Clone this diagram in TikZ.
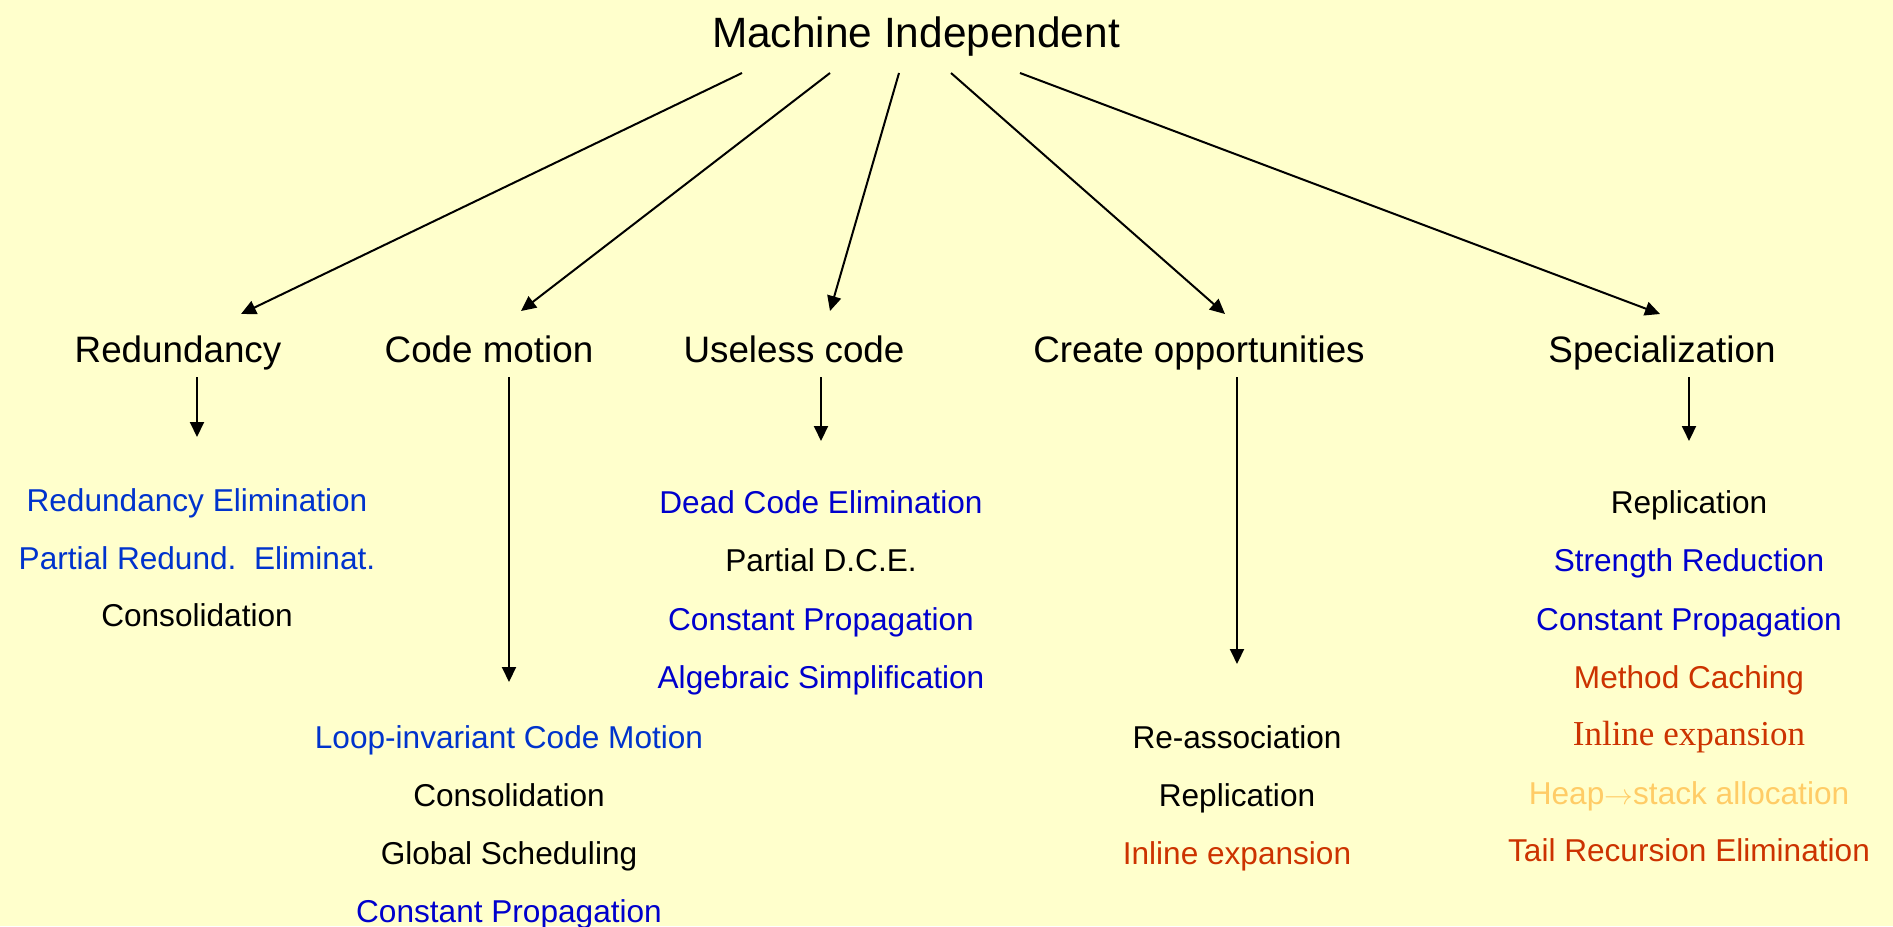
\documentclass[tikz,border=0pt]{standalone}
\usepackage{fontspec}
\setmainfont{Liberation Sans}
\newfontfamily\serifx{Liberation Serif}
\usetikzlibrary{arrows.meta}
\definecolor{bg}{HTML}{FFFFCC}
\definecolor{blueA}{HTML}{0033CC}
\definecolor{blueB}{HTML}{0000CC}
\definecolor{redx}{HTML}{CC3300}
\definecolor{orangex}{HTML}{FFCC66}
\begin{document}
\begin{tikzpicture}[x=0.5pt,y=-0.5pt,
  lvlthree/.style={anchor=base,inner sep=0pt,font=\fontsize{15.8pt}{18pt}\selectfont},
  lvltwo/.style={anchor=base,inner sep=0pt,font=\fontsize{18.4pt}{22pt}\selectfont},
  rootlbl/.style={anchor=base,inner sep=0pt,font=\fontsize{21.2pt}{25pt}\selectfont},
  arr/.style={draw=black,line width=1pt,-{Triangle[length=7.5pt,width=7pt]}}]
\fill[bg] (0,0) rectangle (1893,926);
\useasboundingbox (0,0) rectangle (1893,926);
% root
\node[rootlbl] (root) at (916,47) {Machine Independent};
% level 2
\node[lvltwo] (red) at (178,362) {Redundancy};
\node[lvltwo] (cm) at (489,362) {Code motion};
\node[lvltwo] (uc) at (794,362) {Useless code};
\node[lvltwo] (co) at (1199,362) {Create opportunities};
\node[lvltwo] (sp) at (1662,362) {Specialization};
% top connectors
\coordinate (s1) at (742,73); \coordinate (e1) at (241,314);
\coordinate (s2) at (830,73); \coordinate (e2) at (521,311);
\coordinate (s3) at (899,73); \coordinate (e3) at (830,311);
\coordinate (s4) at (951,73); \coordinate (e4) at (1225,314);
\coordinate (s5) at (1020,73); \coordinate (e5) at (1660,314);
\draw[arr] (s1) -- (e1);
\draw[arr] (s2) -- (e2);
\draw[arr] (s3) -- (e3);
\draw[arr] (s4) -- (e4);
\draw[arr] (s5) -- (e5);
% vertical connectors
\coordinate (v1s) at (197,377); \coordinate (v1e) at (197,437);
\coordinate (v2s) at (509,377); \coordinate (v2e) at (509,682);
\coordinate (v3s) at (821,377); \coordinate (v3e) at (821,441);
\coordinate (v4s) at (1237,377); \coordinate (v4e) at (1237,664);
\coordinate (v5s) at (1689,377); \coordinate (v5e) at (1689,441);
\draw[arr] (v1s) -- (v1e);
\draw[arr] (v2s) -- (v2e);
\draw[arr] (v3s) -- (v3e);
\draw[arr] (v4s) -- (v4e);
\draw[arr] (v5s) -- (v5e);
% Redundancy column
\node[lvlthree,text=blueA] (r1) at (197,511) {Redundancy Elimination};
\node[lvlthree,text=blueA] (r2) at (197,569) {Partial Redund.\ \ Eliminat.};
\node[lvlthree] (r3) at (197,626) {Consolidation};
% Useless code column
\node[lvlthree,text=blueB] (u1) at (821,513) {Dead Code Elimination};
\node[lvlthree] (u2) at (821,571) {Partial D.C.E.};
\node[lvlthree,text=blueB] (u3) at (821,630) {Constant Propagation};
\node[lvlthree,text=blueB] (u4) at (821,688) {Algebraic Simplification};
% Code motion column
\node[lvlthree,text=blueA] (c1) at (509,748) {Loop-invariant Code Motion};
\node[lvlthree] (c2) at (509,806) {Consolidation};
\node[lvlthree] (c3) at (509,864) {Global Scheduling};
\node[lvlthree,text=blueB] (c4) at (509,922) {Constant Propagation};
% Create opportunities column
\node[lvlthree] (o1) at (1237,748) {Re-association};
\node[lvlthree] (o2) at (1237,806) {Replication};
\node[lvlthree,text=redx] (o3) at (1237,864) {Inline expansion};
% Specialization column
\node[lvlthree] (p1) at (1689,513) {Replication};
\node[lvlthree,text=blueB] (p2) at (1689,571) {Strength Reduction};
\node[lvlthree,text=blueB] (p3) at (1689,630) {Constant Propagation};
\node[lvlthree,text=redx] (p4) at (1689,688) {Method Caching};
\node[lvlthree,text=redx,font=\serifx\fontsize{17.5pt}{20pt}\selectfont] (p5) at (1689,745) {Inline expansion};
\node[lvlthree,text=orangex] (p6) at (1689,804) {Heap$\rightarrow$stack allocation};
\node[lvlthree,text=redx] (p7) at (1689,861) {Tail Recursion Elimination};
\end{tikzpicture}
\end{document}
